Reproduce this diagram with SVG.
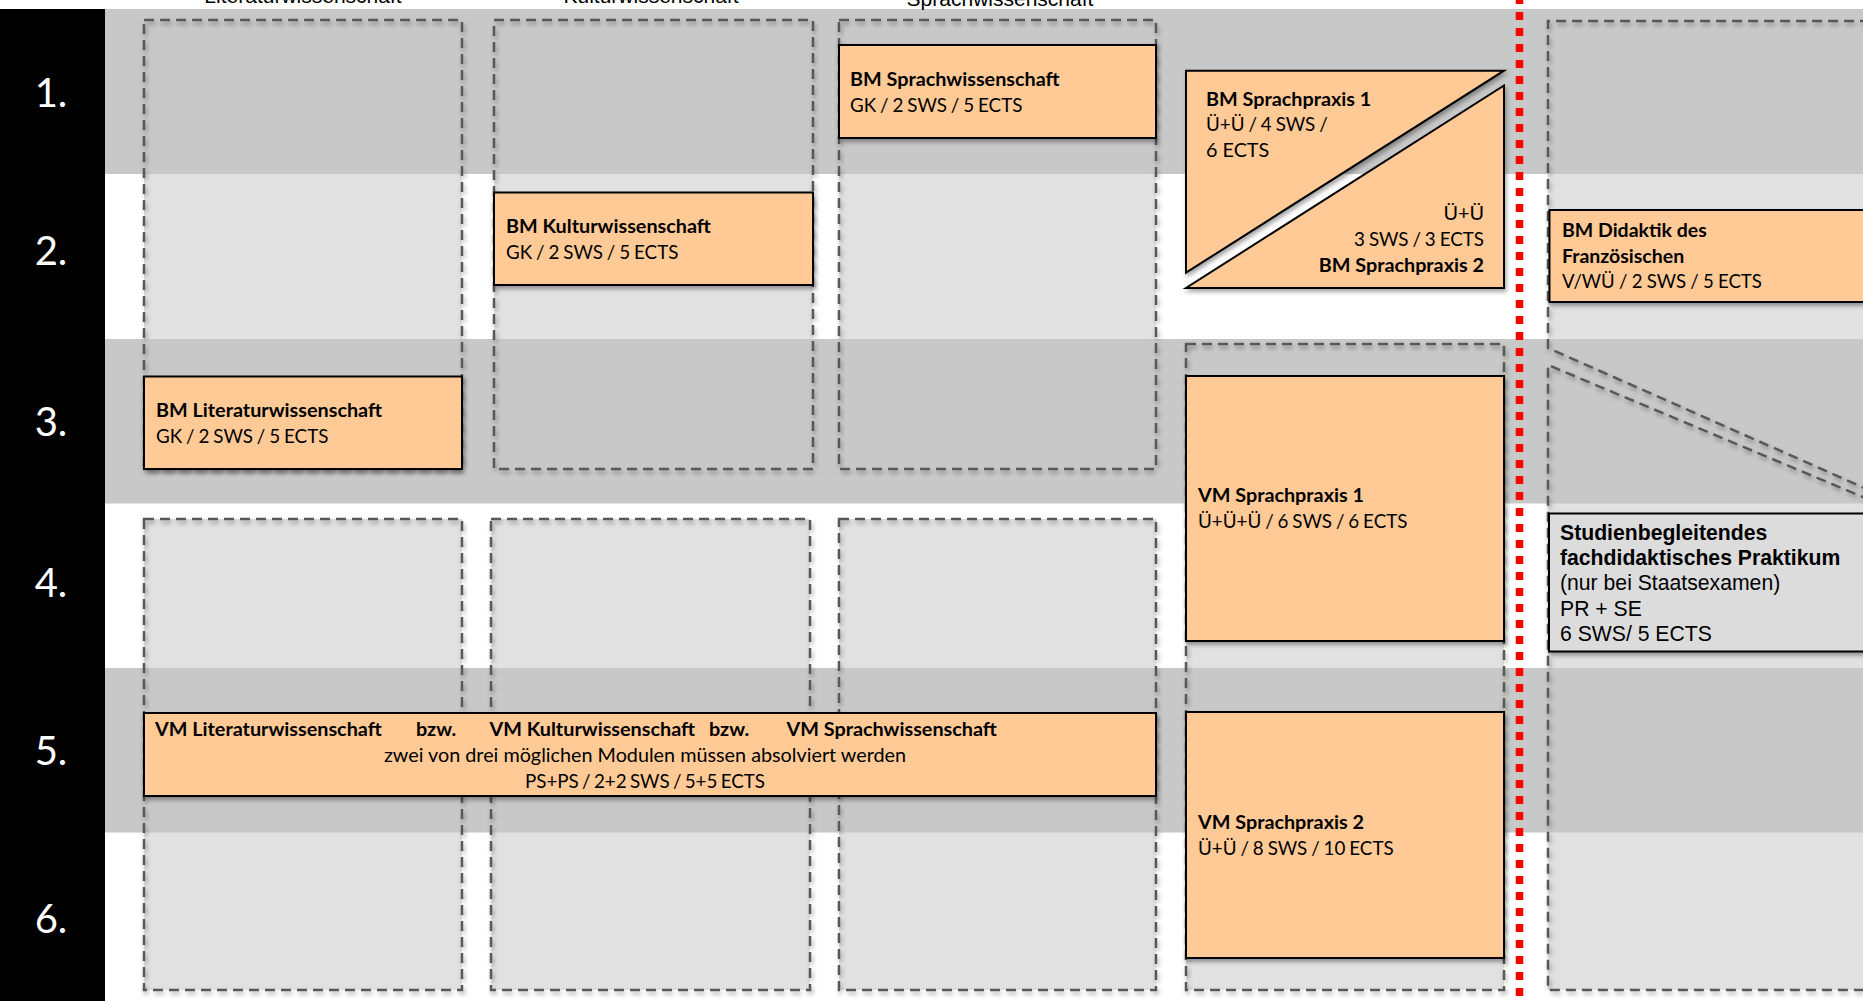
<svg xmlns="http://www.w3.org/2000/svg" width="1863" height="1001" viewBox="0 0 1863 1001">
<defs>
<filter id="sh" x="-20%" y="-20%" width="140%" height="140%"><feDropShadow dx="1.5" dy="3" stdDeviation="2" flood-color="#000" flood-opacity="0.35"/></filter>
<style>
.band{fill:#c8c8c8}
.cfill{fill:#e1e1e1}
.dash{fill:none;stroke:#595959;stroke-width:2.5;stroke-dasharray:10 6;filter:url(#sh)}
.box{fill:#ffca96;stroke:#000;stroke-width:2;filter:url(#sh)}
.gbox{fill:#dcdcdc;stroke:#000;stroke-width:2;filter:url(#sh)}
.t{font-family:Lato,"Noto Sans",sans-serif;font-size:19.8px;fill:#000}
.s{font-size:18.8px;word-spacing:-0.9px}
.s2{font-size:18.8px;word-spacing:-1.5px}
.d{font-size:19.5px}
.dr{font-size:18.6px;word-spacing:-0.5px}
.b{font-weight:bold}
.a{font-family:"Liberation Sans",Arial,sans-serif;font-size:21.2px;fill:#000}
.h{font-family:"Liberation Sans",Arial,sans-serif;font-size:21px;fill:#000;text-anchor:middle}
.n{font-family:Lato,"Noto Sans",sans-serif;font-size:40px;fill:#fff;text-anchor:middle}
</style>
</defs>
<rect x="0" y="0" width="1863" height="1001" fill="#fff"/>
<g id="container-fills">
<rect class="cfill" x="144" y="20" width="318" height="449"/>
<rect class="cfill" x="494" y="20" width="319" height="449"/>
<rect class="cfill" x="839" y="20" width="317" height="449"/>
<rect class="cfill" x="144" y="519" width="318" height="471"/>
<rect class="cfill" x="491" y="519" width="319" height="471"/>
<rect class="cfill" x="839" y="519" width="317" height="471"/>
<rect class="cfill" x="1186" y="344" width="318" height="646"/>
<path class="cfill" d="M1870 21 H1548 V348 L1870 490.5 Z"/>
<path class="cfill" d="M1548 365 L1870 500 V990 H1548 Z"/>
</g>
<g id="bands">
<rect class="band" x="105" y="9" width="1758" height="165"/>
<rect class="band" x="105" y="339" width="1758" height="164.5"/>
<rect class="band" x="105" y="668" width="1758" height="164.5"/>
</g>
<g id="containers">
<rect class="dash" x="144" y="20" width="318" height="449"/>
<rect class="dash" x="494" y="20" width="319" height="449"/>
<rect class="dash" x="839" y="20" width="317" height="449"/>
<rect class="dash" x="144" y="519" width="318" height="471"/>
<rect class="dash" x="491" y="519" width="319" height="471"/>
<rect class="dash" x="839" y="519" width="317" height="471"/>
<rect class="dash" x="1186" y="344" width="318" height="646"/>
<path class="dash" d="M1870 21 H1548 V348 L1870 490.5"/>
<path class="dash" d="M1870 500 L1548 365 V990 H1870"/>
</g>
<g id="bm-sprachwissenschaft">
<rect class="box" x="839" y="45" width="317" height="93"/>
<text class="t b" x="850" y="86">BM Sprachwissenschaft</text>
<text class="t s" x="850" y="112">GK / 2 SWS / 5 ECTS</text>
</g>
<g id="bm-kulturwissenschaft">
<rect class="box" x="494" y="192.5" width="319" height="92.5"/>
<text class="t b" x="506" y="233">BM Kulturwissenschaft</text>
<text class="t s" x="506" y="259">GK / 2 SWS / 5 ECTS</text>
</g>
<g id="bm-literaturwissenschaft">
<rect class="box" x="144" y="376.5" width="318" height="92.5"/>
<text class="t b" x="156" y="417">BM Literaturwissenschaft</text>
<text class="t s" x="156" y="443">GK / 2 SWS / 5 ECTS</text>
</g>
<g id="bm-sprachpraxis">
<polygon class="box" points="1186,70.7 1504,70.7 1186,272.7"/>
<polygon class="box" points="1504,85.5 1504,288 1186,288"/>
<text class="t b" x="1206" y="106">BM Sprachpraxis 1</text>
<text class="t s" x="1206" y="131">Ü+Ü / 4 SWS /</text>
<text class="t" x="1206" y="157">6 ECTS</text>
<text class="t" x="1484" y="220" text-anchor="end">Ü+Ü</text>
<text class="t s" x="1484" y="246" text-anchor="end">3 SWS / 3 ECTS</text>
<text class="t b" x="1484" y="272" text-anchor="end">BM Sprachpraxis 2</text>
</g>
<g id="vm-sprachpraxis-1">
<rect class="box" x="1186" y="376" width="318" height="265"/>
<text class="t b" x="1198" y="502">VM Sprachpraxis 1</text>
<text class="t s" x="1198" y="528">Ü+Ü+Ü / 6 SWS / 6 ECTS</text>
</g>
<g id="vm-sprachpraxis-2">
<rect class="box" x="1186" y="712" width="318" height="246"/>
<text class="t b" x="1198" y="829">VM Sprachpraxis 2</text>
<text class="t s" x="1198" y="855">Ü+Ü / 8 SWS / 10 ECTS</text>
</g>
<g id="vm-wahl">
<rect class="box" x="144" y="713" width="1012" height="83"/>
<text class="t b" x="155" y="736">VM Literaturwissenschaft</text>
<text class="t b" x="416" y="736">bzw.</text>
<text class="t b" x="489.5" y="736">VM Kulturwissenschaft</text>
<text class="t b" x="709" y="736">bzw.</text>
<text class="t b" x="786.5" y="736">VM Sprachwissenschaft</text>
<text class="t" x="645" y="762" text-anchor="middle">zwei von drei möglichen Modulen müssen absolviert werden</text>
<text class="t s2" x="645" y="787.5" text-anchor="middle">PS+PS / 2+2 SWS / 5+5 ECTS</text>
</g>
<g id="bm-didaktik">
<rect class="box" x="1549.5" y="210" width="330" height="92"/>
<text class="t d b" x="1562" y="237">BM Didaktik des</text>
<text class="t d b" x="1562" y="263">Französischen</text>
<text class="t dr" x="1562" y="288">V/WÜ / 2 SWS / 5 ECTS</text>
</g>
<g id="praktikum">
<rect class="gbox" x="1549" y="513.5" width="330" height="138"/>
<text class="a b" x="1560" y="540">Studienbegleitendes</text>
<text class="a b" x="1560" y="565">fachdidaktisches Praktikum</text>
<text class="a" x="1560" y="590">(nur bei Staatsexamen)</text>
<text class="a" x="1560" y="616">PR + SE</text>
<text class="a" x="1560" y="641">6 SWS/ 5 ECTS</text>
</g>
<g id="semester-bar">
<rect x="0" y="9" width="105" height="992" fill="#000"/>
<text class="n" x="51" y="107">1.</text>
<text class="n" x="51" y="265">2.</text>
<text class="n" x="51" y="436">3.</text>
<text class="n" x="51" y="597">4.</text>
<text class="n" x="51" y="765">5.</text>
<text class="n" x="51" y="933">6.</text>
</g>
<g id="header">
<rect x="0" y="0" width="1863" height="9" fill="#fff"/>
<text class="h" x="303" y="3">Literaturwissenschaft</text>
<text class="h" x="651" y="3">Kulturwissenschaft</text>
<text class="h" x="1000" y="6">Sprachwissenschaft</text>
</g>
<g id="connectors">
<line x1="1519.5" y1="-4" x2="1519.5" y2="1001" stroke="#ff0000" stroke-width="7.5" stroke-dasharray="8 8"/>
</g>
</svg>
